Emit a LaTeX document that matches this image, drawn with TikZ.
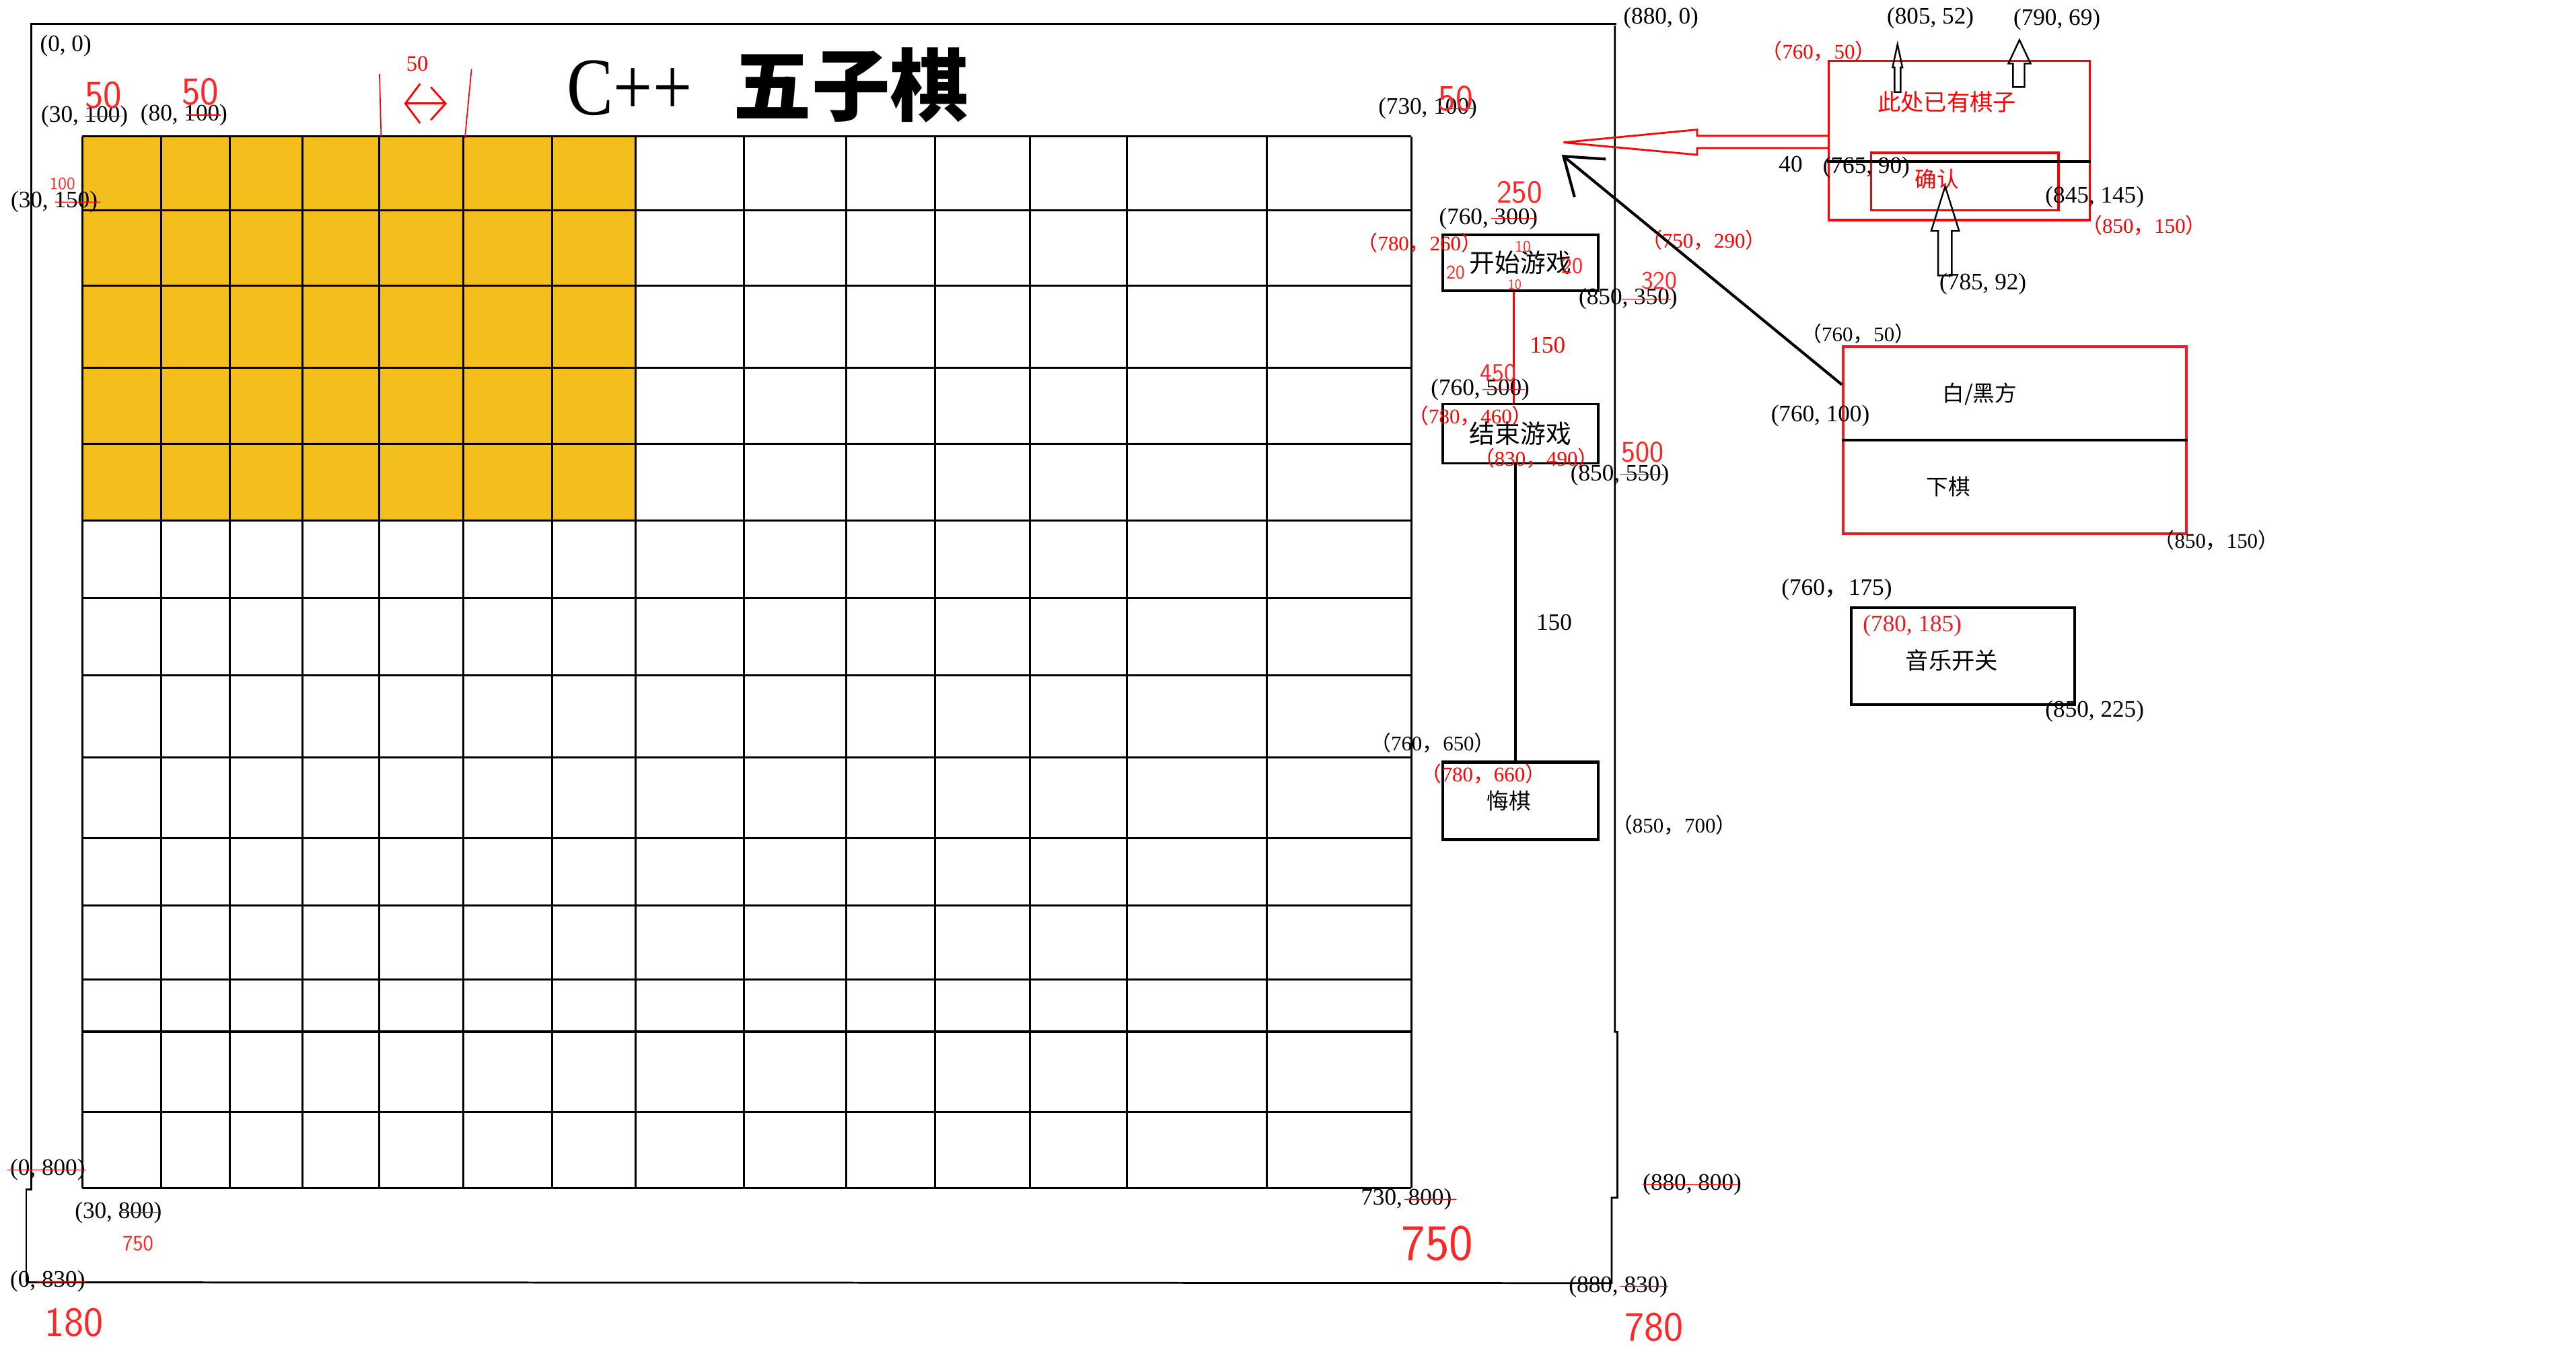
\documentclass[tikz,border=0pt]{standalone}
\usepackage{fontspec}
\setmainfont{Liberation Serif}
\newfontfamily\cjk{Noto Sans CJK SC}
\newfontfamily\titlefont[FakeStretch=0.85]{Liberation Serif}
\usetikzlibrary{calc,arrows.meta}
\definecolor{boardYellow}{HTML}{F4BE1C}
\definecolor{paintRed}{HTML}{ED1C24}
\newcommand{\fl}{{\cjk （}}
\newcommand{\fc}{{\cjk ，}}
\newcommand{\fr}{{\cjk ）}}
\newcommand{\crossout}[3]{\draw[strike] ($(#1.west)!#2!(#1.east)$) -- ($(#1.west)!#3!(#1.east)$);}
\tikzset{
  coord/.style={font=\fontsize{20.5}{22}\selectfont, inner sep=0pt},
  wide/.style={font=\fontsize{18}{19}\selectfont, inner sep=0pt},
  cn/.style={font=\cjk\fontsize{20}{22}\selectfont, inner sep=0pt},
  scrawl/.style={text=red!85!white, font=\sffamily\fontsize{#1}{#1}\selectfont, inner sep=0pt},
  strike/.style={red, line width=0.7pt},
  btn/.style={draw, line width=2.1pt, inner sep=0pt, minimum width=4.725cm},
  gridline/.style={line width=1.7pt},
  hollow/.style={line width=1.4pt, line join=miter},
}

\begin{document}
\begin{tikzpicture}[x=0.05cm, y=-0.05cm]
\useasboundingbox (0,0) rectangle (1568,824);

% board
\fill[boardYellow] (50,83) rectangle (387,317);
\foreach \gx in {50,98,140,184,231,282,336,387,453,515,569,627,686,771,859}
  \draw[gridline] (\gx,83) -- (\gx,723);
\foreach \gy in {83,128,174,224,270,317,364,411,461,510,551,596,677,723}
  \draw[gridline] (50,\gy) -- (859,\gy);
\draw[line width=2.5pt] (50,628) -- (859,628);

% window frame
\draw[line width=1.6pt] (16,780.5) -- (16,724) -- (19,724) -- (19,14.5) -- (984,14.5);
\draw[line width=1.6pt] (983,15.5) -- (983,628) -- (984.5,628) -- (984.5,729) -- (981,729) -- (981,781) -- (16,780.5);

% title
\node[anchor=base west, inner sep=0pt] (title) at (345,70)
  {\titlefont\fontsize{71}{72}\selectfont C++\hspace{0.5em}{\cjk\bfseries\fontsize{68}{70}\selectfont 五子棋}};

% cell size mark
\draw[red, line width=1pt] (231,45) -- (232,83);
\draw[red, line width=1pt] (287,42) -- (283,84);
\coordinate (cellL) at (246,63);
\coordinate (cellR) at (272,63);
\draw[red, line width=1.6pt, {Straight Barb[length=0.45cm,width=1.2cm]}-{Straight Barb[length=0.45cm,width=1cm]}] (cellL) -- (cellR);
\node[coord, text=red, font=\fontsize{19}{20}\selectfont] (cellW) at (254,39) {50};

% corner labels of the board
\node[coord] (origin) at (40,28) {(0, 0)};
\node[coord] (cellA) at (51.5,71) {(30, 100)};
\node[coord] (cellB) at (112,70) {(80, 100)};
\node[coord] (rowB) at (33,123) {(30, 150)};
\node[coord] (gridTR) at (869,66) {(730, 100)};
\node[coord] (frameTR) at (1011,11) {(880, 0)};
\node[coord] (frameBL) at (29,712) {(0, 800)};
\node[coord] (gridBL) at (72,738) {(30, 800)};
\node[coord] (frameBot) at (29,780) {(0, 830)};
\node[coord] (gridBR) at (856,730) {730, 800)};
\node[coord] (frameR) at (1030,721) {(880, 800)};
\node[coord] (frameBR) at (985,783) {(880, 830)};

% buttons
\node[btn, minimum height=1.7cm, font=\cjk\fontsize{22}{24}\selectfont] (startBtn) at (925.5,160) {开始游戏};
\node[btn, minimum height=1.8cm, font=\cjk\fontsize{22}{24}\selectfont] (endBtn) at (925.5,264) {结束游戏};
\node[btn, minimum height=2.35cm, line width=2.7pt] (undoBtn) at (925.5,487.5) {};
\node[cn, font=\cjk\fontsize{19}{20}\selectfont] (undoTxt) at (918.5,487.5) {悔棋};
\draw[red, line width=1.5pt] ($(startBtn.south)+(-4,0)$) -- ($(endBtn.north)+(-4,0)$);
\draw[line width=2.6pt] ($(endBtn.south)+(-3,0)$) -- ($(undoBtn.north)+(-3,0)$);

\node[coord] (startTop) at (906,133) {(760, 300)};
\node[wide, text=red] (startTL) at (864,148) {\fl780\fc260\fr};
\node[wide, text=red] (startGap) at (1037,146) {\fl750\fc290\fr};
\node[coord] (startBR) at (991,182) {(850, 350)};
\node[coord, text=red] (gapA) at (942,210) {150};
\node[coord] (endTop) at (901,237) {(760, 500)};
\node[wide, text=red] (endTL) at (895,253) {\fl780\fc460\fr};
\node[wide, text=red] (endBR) at (935,279) {\fl830\fc490\fr};
\node[coord] (endOut) at (986,289) {(850, 550)};
\node[coord] (gapB) at (946,379) {150};
\node[wide] (undoTop) at (872,452) {\fl760\fc650\fr};
\node[wide, text=red] (undoTL) at (903,471) {\fl780\fc660\fr};
\node[wide] (undoBR) at (1019,502) {\fl850\fc700\fr};

% warning popup
\node[draw=red, line width=2pt, minimum width=7.95cm, minimum height=4.85cm, inner sep=0pt] (warnBox) at (1192.5,85.5) {};
\node[draw=red, line width=2pt, minimum width=5.7cm, minimum height=1.75cm, inner sep=0pt] (okBox) at (1196,110.5) {};
\coordinate (warnCut) at (1112,98.3);
\draw[line width=2.2pt] (warnCut) -- (warnCut -| warnBox.east);
\node[cn, text=red] (warnTxt) at (1185,62) {此处已有棋子};
\node[cn, text=red, font=\cjk\fontsize{19}{20}\selectfont] (okTxt) at (1179,109) {确认};
\node[coord] (upA) at (1175,11) {(805, 52)};
\node[coord] (upB) at (1252,12) {(790, 69)};
\node[wide, text=red] (warnTL) at (1107,31) {\fl760\fc50\fr};
\node[coord] (forty) at (1090,100) {40};
\node[coord] (okTL) at (1136,102) {(765, 90)};
\node[coord] (okBR) at (1275,120) {(845, 145)};
\node[wide, text=red] (warnBR) at (1305,137) {\fl850\fc150\fr};
\node[coord] (okArrow) at (1207,173) {(785, 92)};

% hollow arrows
\draw[red, hollow, line width=1.6pt] (1113,82.6) -- (1033,82.6) -- (1033,78.9) -- (951.7,86.7)
  -- (1033,94.2) -- (1033,90.1) -- (1113,90.1);
\draw[hollow] (1153.2,56) -- (1153.2,41) -- (1152,41) -- (1155,27) -- (1158,41) -- (1156.9,41) -- (1156.9,56) -- cycle;
\draw[hollow] (1225.3,53) -- (1225.3,38.7) -- (1222.5,38.7) -- (1229.2,24.3) -- (1236,38.7) -- (1232.3,38.7) -- (1232.3,53) -- cycle;
\draw[hollow] (1179.7,167.7) -- (1179.7,140.6) -- (1175.5,140.6) -- (1184,113.4) -- (1192.5,140.6) -- (1188,140.6) -- (1188,167.7) -- cycle;

% side / move panel
\node[draw=paintRed, line width=2.4pt, minimum width=10.45cm, minimum height=5.7cm, inner sep=0pt] (pieceBox) at (1226.5,268) {};
\draw[line width=2.2pt] (pieceBox.west) -- (pieceBox.east);
\node[cn, font=\cjk\fontsize{19}{20}\selectfont] (sideTxt) at (1205,240) {白/黑方};
\node[cn, font=\cjk\fontsize{19}{20}\selectfont] (moveTxt) at (1186,296) {下棋};
\node[wide] (pieceTL) at (1131,203) {\fl760\fc50\fr};
\node[coord] (pieceMid) at (1108,253) {(760, 100)};
\node[wide] (pieceBR) at (1349,329) {\fl850\fc150\fr};
\coordinate (boardHit) at (950.6,94.2);
\draw[line width=2.4pt, -{Straight Barb[length=1.05cm,width=1.5cm]}] ($(pieceBox.north west)+(0,24)$) -- (boardHit);

% music switch
\node[draw, line width=2.4pt, minimum width=6.8cm, minimum height=2.95cm, inner sep=0pt] (musicBox) at (1195,399.5) {};
\node[cn] (musicTxt) at (1188,402) {音乐开关};
\node[coord] (musicTL) at (1118,359) {(760{\cjk ，}175)};
\node[coord, text=paintRed] (musicIn) at (1164,381) {(780, 185)};
\node[coord] (musicBR) at (1275,433) {(850, 225)};

% hand corrections
\crossout{cellA}{0.51}{0.91}
\crossout{cellB}{0.53}{0.92}
\crossout{rowB}{0.51}{1.03}
\crossout{gridTR}{0.63}{0.97}
\crossout{startTop}{0.53}{0.98}
\crossout{startBR}{0.43}{0.93}
\crossout{endTop}{0.52}{0.95}
\crossout{endOut}{0.5}{0.95}
\crossout{frameBL}{-0.03}{1.0}
\crossout{gridBL}{0.51}{0.96}
\crossout{frameBot}{0.36}{1.0}
\crossout{gridBR}{0.48}{1.05}
\crossout{frameR}{0}{0.96}
\crossout{frameBR}{0.52}{1.0}
\node[scrawl=34] (fixA) at (63,58) {50};
\node[scrawl=34] (fixB) at (122,56) {50};
\node[scrawl=15] (fixC) at (38,112) {100};
\node[scrawl=32] (fixD) at (886,60) {50};
\node[scrawl=28] (fixE) at (925,117) {250};
\node[scrawl=17] (padL) at (886,166) {20};
\node[scrawl=14] (padT) at (927,150) {10};
\node[scrawl=20] (padR) at (957,162) {20};
\node[scrawl=12] (padB) at (922,173) {10};
\node[scrawl=22] (fixF) at (1010,171) {320};
\node[scrawl=22] (fixG) at (912,227) {450};
\node[scrawl=26] (fixH) at (1000,275) {500};
\node[scrawl=19] (fixI) at (84,757) {750};
\node[scrawl=36] (fixJ) at (45,805) {180};
\node[scrawl=44] (fixK) at (875,757) {750};
\node[scrawl=36] (fixL) at (1007,808) {780};
\end{tikzpicture}
\end{document}
